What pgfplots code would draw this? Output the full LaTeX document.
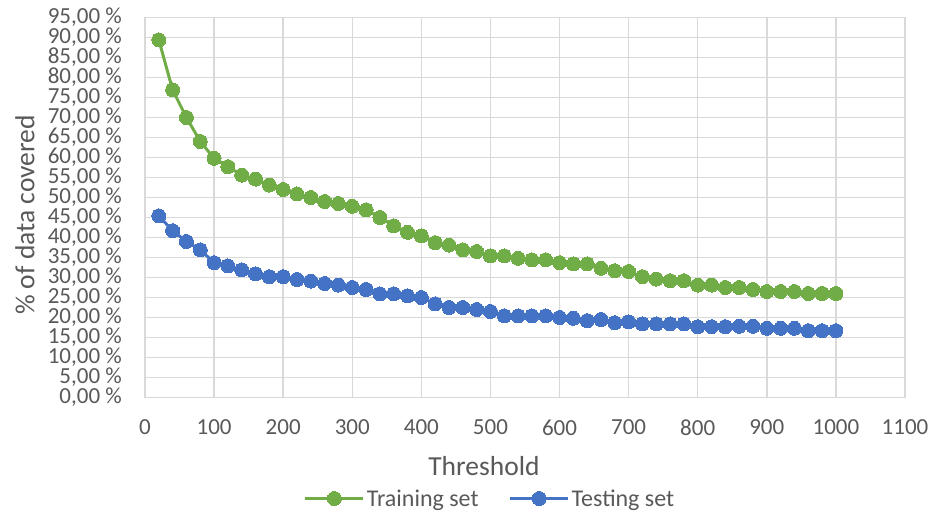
\documentclass[border=0pt]{standalone}
\usepackage{pgfplots}
\pgfplotsset{compat=1.18}
\usepackage{fontspec}
\setmainfont{Carlito}
\definecolor{txt}{HTML}{595959}
\definecolor{gridc}{HTML}{D9D9D9}
\definecolor{axc}{HTML}{BFBFBF}
\definecolor{grn}{HTML}{70AD47}
\definecolor{blu}{HTML}{4472C4}
\begin{document}
\begin{tikzpicture}
\path[use as bounding box] (-145pt,-116.5pt) rectangle (785pt,397.5pt);
\begin{axis}[
  at={(0pt,0pt)}, anchor=south west,
  scale only axis, width=760pt, height=380pt,
  xmin=0, xmax=1100, ymin=0, ymax=95,
  xtick distance=100, ytick distance=5,
  grid=major, major grid style={draw=gridc, line width=1.4pt},
  axis line style={draw=gridc, line width=1.4pt},
  major tick length=0pt,
  /pgf/number format/assume math mode=true,
  tick label style={font=\fontsize{23}{23}\selectfont, text=txt, inner sep=0pt},
  xticklabel style={anchor=north, yshift=-22pt},
  yticklabel style={anchor=east, xshift=-23pt},
  yticklabel={\pgfmathprintnumber[fixed,fixed zerofill,precision=2,use comma]{\tick}~\%},
  xticklabel={\pgfmathprintnumber[fixed,precision=0,1000 sep={}]{\tick}},
  xlabel={Threshold},
  ylabel={\% of data covered},
  label style={font=\fontsize{27.5}{27.5}\selectfont, text=txt, inner sep=0pt},
  xlabel style={at={(axis description cs:0.446,0)}, anchor=center, yshift=-69pt},
  ylabel style={at={(axis description cs:0,0.48)}, anchor=center, rotate=0, yshift=120pt},
  legend columns=2,
  legend style={at={(axis description cs:0.454,0)}, anchor=center, yshift=-101pt,
    draw=none, fill=none, font=\fontsize{24}{24}\selectfont, text=txt,
    /tikz/every even column/.append style={column sep=28pt}},
  legend cell align=left,
  legend image code/.code={\draw[mark repeat=2,mark phase=2,#1] plot coordinates {(0pt,0pt) (29pt,0pt) (58pt,0pt)};},
  every axis plot/.append style={line width=3pt, mark=*, mark size=7pt},
]
\addplot[color=grn, mark options={fill=grn, draw=grn, line width=0pt}] coordinates {
(20,89.4) (40,76.9) (60,70.0) (80,64.0) (100,59.8) (120,57.7) (140,55.6) (160,54.6) (180,53.1) (200,52.0)
(220,50.9) (240,50.0) (260,49.0) (280,48.5) (300,47.8) (320,46.9) (340,45.0) (360,42.9) (380,41.3) (400,40.4)
(420,38.7) (440,38.1) (460,36.9) (480,36.5) (500,35.4) (520,35.4) (540,34.8) (560,34.4) (580,34.4) (600,33.7)
(620,33.4) (640,33.4) (660,32.3) (680,31.7) (700,31.5) (720,30.2) (740,29.6) (760,29.2) (780,29.2) (800,28.1)
(820,28.1) (840,27.5) (860,27.5) (880,27.0) (900,26.5) (920,26.5) (940,26.5) (960,26.0) (980,26.0) (1000,26.0)
};
\addlegendentry{Training set}
\addplot[color=blu, mark options={fill=blu, draw=blu, line width=0pt}] coordinates {
(20,45.4) (40,41.7) (60,39.0) (80,36.9) (100,33.7) (120,32.9) (140,31.9) (160,30.9) (180,30.2) (200,30.2)
(220,29.5) (240,29.1) (260,28.5) (280,28.1) (300,27.5) (320,27.0) (340,25.9) (360,25.9) (380,25.4) (400,25.0)
(420,23.4) (440,22.5) (460,22.5) (480,22.0) (500,21.5) (520,20.4) (540,20.4) (560,20.4) (580,20.4) (600,20.0)
(620,19.8) (640,19.2) (660,19.5) (680,18.7) (700,18.9) (720,18.4) (740,18.4) (760,18.4) (780,18.4) (800,17.7)
(820,17.7) (840,17.7) (860,17.8) (880,17.8) (900,17.3) (920,17.3) (940,17.3) (960,16.7) (980,16.7) (1000,16.7)
};
\addlegendentry{Testing set}
\end{axis}
\end{tikzpicture}
\end{document}
